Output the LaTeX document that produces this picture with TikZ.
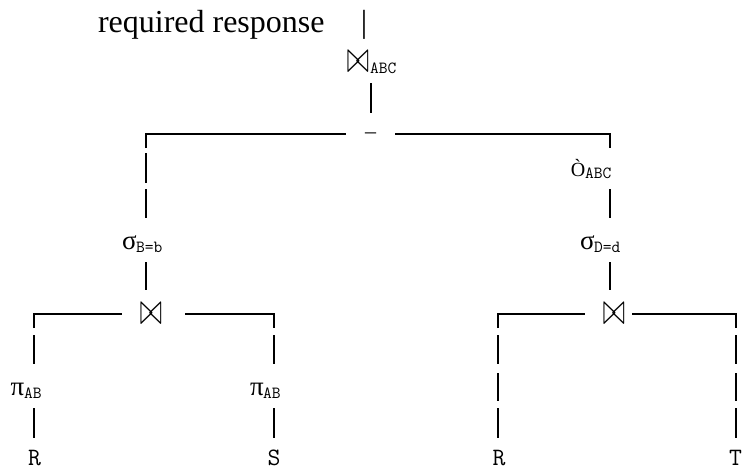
\documentclass[tikz,border=0pt]{standalone}
\usepackage{fix-cm}
\usepackage{graphicx}
\usepackage{fontspec}
\setmainfont{Liberation Serif}
\setmonofont{Latin Modern Mono}
\newcommand{\bowglyph}{\scalebox{1.05}[1.75]{$\bowtie$}}
\tikzset{
  edge/.style={line width=2.2pt, line cap=butt, line join=miter},
  txt/.style={inner sep=0pt, outer sep=0pt},
  title/.style={txt, anchor=base west, font=\fontsize{32}{32}\selectfont},
  sub/.style={txt, anchor=base west, font=\ttfamily\fontsize{17}{17}\selectfont},
  op/.style={txt, anchor=base, font=\fontsize{27}{27}\selectfont},
  rel/.style={txt, anchor=base, font=\ttfamily\fontsize{25}{25}\selectfont},
  joinop/.style={txt, font=\fontsize{26}{26}\selectfont},
}
\begin{document}
\begin{tikzpicture}[x=1pt,y=-1pt]
\useasboundingbox (0,0) rectangle (744,472);
% top
\node[title] (title) at (98,32) {required response};
\node[txt, anchor=base, font=\fontsize{32}{32}\selectfont] (bar) at (364,32) {|};
\node[joinop] (j0) at (358,62) {\bowglyph};
\node[sub] (j0s) at (370,73) {ABC};
\draw[edge] (371,83) -- (371,113);
\draw[edge] (146,148) -- (146,134) -- (346,134);
\draw[edge] (395,134) -- (610,134) -- (610,148);
\node[txt, anchor=base, font=\fontsize{22}{22}\selectfont] (minus) at (370.5,138) {–};
% left branch
\draw[edge] (146,153) -- (146,183);
\draw[edge] (146,189) -- (146,218);
\node[op] (selL) at (129.5,249) {σ};
\node[sub] (selLs) at (136,252) {B=b};
\draw[edge] (146,262) -- (146,290);
\node[joinop] (j1) at (151,313.5) {\bowglyph};
\draw[edge] (34,328) -- (34,314) -- (122,314);
\draw[edge] (185,314) -- (274,314) -- (274,328);
\draw[edge] (34,335) -- (34,364);
\draw[edge] (274,335) -- (274,364);
\node[op] (piR) at (17.5,395) {π};
\node[sub] (piRs) at (24,398) {AB};
\node[op] (piS) at (257,395) {π};
\node[sub] (piSs) at (263,398) {AB};
\draw[edge] (34,408) -- (34,438);
\draw[edge] (274,408) -- (274,438);
\node[rel] (R1) at (34.5,465) {R};
\node[rel] (S) at (274,465) {S};
% right branch
\node[txt, anchor=base, font=\fontsize{20}{20}\selectfont] (proj) at (578,176) {Ò};
\node[sub] (projs) at (585,178) {ABC};
\draw[edge] (610,189) -- (610,218);
\node[op] (selR) at (587.5,249) {σ};
\node[sub] (selRs) at (594,252) {D=d};
\draw[edge] (610,262) -- (610,290);
\node[joinop] (j2) at (614,313.5) {\bowglyph};
\draw[edge] (498,328) -- (498,314) -- (585,314);
\draw[edge] (632,314) -- (736,314) -- (736,328);
\foreach \xx in {498,736} {
  \draw[edge] (\xx,335) -- (\xx,364);
  \draw[edge] (\xx,373) -- (\xx,401);
  \draw[edge] (\xx,408) -- (\xx,438);
}
\node[rel] (R2) at (499,465) {R};
\node[rel] (T) at (735.5,465) {T};
\end{tikzpicture}
\end{document}
